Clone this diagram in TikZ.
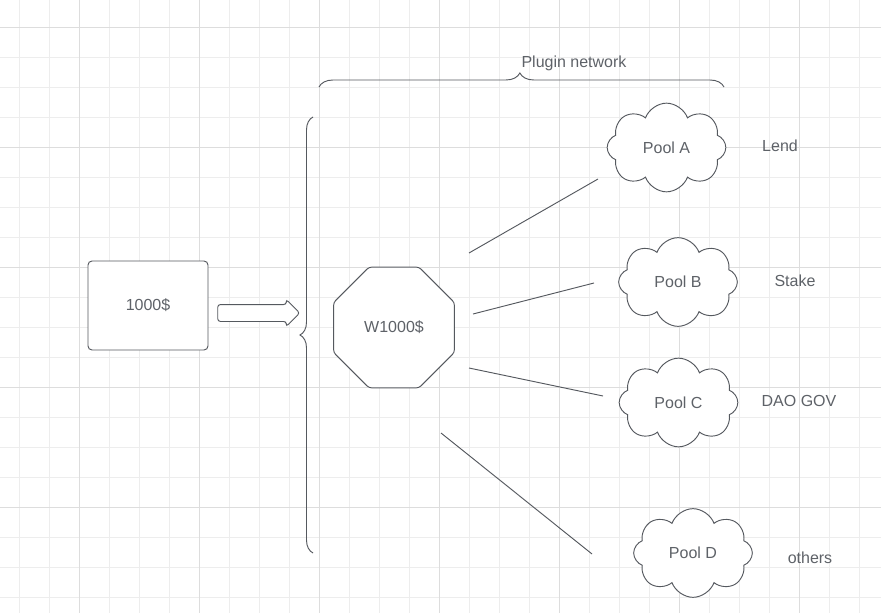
\documentclass[tikz,border=0pt]{standalone}
\usepackage{fontspec}
\setmainfont{Liberation Sans}
\usetikzlibrary{shapes.geometric,shapes.symbols,shapes.arrows,decorations.pathreplacing}
\definecolor{ink}{HTML}{55595F}
\definecolor{txt}{HTML}{5E6268}
\definecolor{gridminor}{HTML}{EDEDED}
\definecolor{gridmajor}{HTML}{DDDDDD}
\tikzset{
lbl/.style={text=txt,font=\fontsize{12}{14}\selectfont,inner sep=0pt},
card/.style={draw=ink,line width=0.7pt,rounded corners=3pt,minimum width=90pt,minimum height=66.75pt,lbl,fill=white},
wrap/.style={regular polygon,regular polygon sides=8,draw=ink,line width=0.7pt,rounded corners=2pt,
  minimum size=98pt,lbl,fill=white},
pool/.style={cloud,cloud puffs=8,cloud puff arc=140,aspect=1.35,draw=ink,line width=0.7pt,
  minimum width=89pt,minimum height=66.5pt,lbl,fill=white},
fat/.style={single arrow,draw=ink,line width=0.7pt,rounded corners=2pt,fill=white,
  minimum height=61.5pt,single arrow head extend=3.75pt,inner xsep=0pt,inner ysep=6pt},
link/.style={draw=ink,line width=0.7pt},
brc/.style={draw=ink,line width=0.7pt,decorate,decoration={brace,amplitude=#1}},
brc/.default=9.75pt
}

\begin{document}
\begin{tikzpicture}[x=0.75pt,y=-0.75pt]
\useasboundingbox[fill=white] (0,0) rectangle (881,613);
% grid
\foreach \gx in {19.5,49.5,...,859.5} \draw[gridminor,line width=0.75pt] (\gx,0) -- (\gx,613);
\foreach \gy in {27.3,57.3,...,597.3} \draw[gridminor,line width=0.75pt] (0,\gy) -- (881,\gy);
\foreach \gx in {79.5,199.5,...,799.5} \draw[gridmajor,line width=0.75pt] (\gx,0) -- (\gx,613);
\foreach \gy in {27.3,147.3,...,507.3} \draw[gridmajor,line width=0.75pt] (0,\gy) -- (881,\gy);

\node[card] (cash) at (148,305.5) {1000\$};
\node[fat] (push) at (254.5,313) {};
\node[wrap] (wrapped) at (394,327.5) {W1000\$};

\node[pool] (poola) at (666.5,147.5) {Pool A};
\node[pool] (poolb) at (678,282) {Pool B};
\node[pool] (poolc) at (678.5,402.5) {Pool C};
\node[pool] (poold) at (693,553) {Pool D};

\node[lbl] (lend) at (780,146) {Lend};
\node[lbl] (stake) at (795,281) {Stake};
\node[lbl] (gov) at (799,401) {DAO GOV};
\node[lbl] (rest) at (810,558) {others};

% braces
\draw[brc] (313,553) -- (313,117);
\draw[brc=10.5pt,decoration={aspect=0.496}] (319,87) -- (724,87);
\node[lbl] (net) at (574,63) {Plugin network};

% links out of the octagon
\coordinate (wa) at (469,253);
\coordinate (wb) at (473,314);
\coordinate (wc) at (469,368);
\coordinate (wd) at (441,433);
\coordinate (pa) at (598,179);
\coordinate (pb) at (594,283);
\coordinate (pc) at (603,396);
\coordinate (pd) at (592,554);
\draw[link] (wa) -- (pa);
\draw[link] (wb) -- (pb);
\draw[link] (wc) -- (pc);
\draw[link] (wd) -- (pd);
\end{tikzpicture}
\end{document}
